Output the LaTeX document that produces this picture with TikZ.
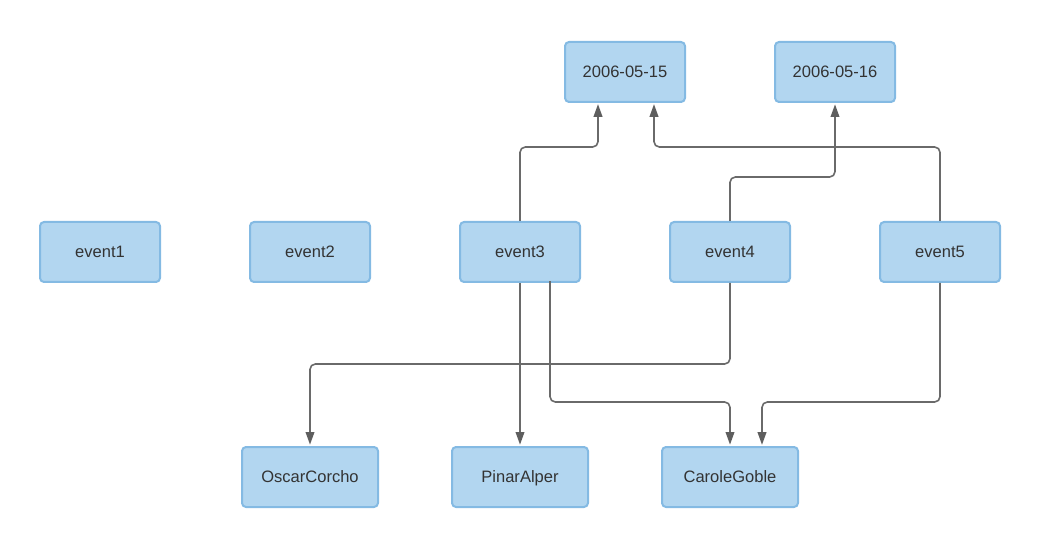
\documentclass[tikz,border=0pt]{standalone}
\usepackage{fontspec}
\setmainfont{Liberation Sans}
\usetikzlibrary{arrows.meta}
\definecolor{boxfill}{HTML}{B2D6F0}
\definecolor{boxline}{HTML}{84BAE3}
\definecolor{edgecol}{HTML}{6A6A6A}
\definecolor{tipcol}{HTML}{5E5E5E}
\definecolor{txtcol}{HTML}{333333}
\begin{document}
\begin{tikzpicture}[x=0.75pt,y=-0.75pt,
  box/.style={draw=boxline,fill=boxfill,line width=1.5pt,rounded corners=3pt,
    minimum width=90pt,minimum height=45pt,inner sep=0pt,text=txtcol,
    font=\fontsize{12.4}{14}\selectfont,text depth=0.6pt},
  wbox/.style={box,minimum width=102pt},
  conn/.style={draw=edgecol,line width=1.2pt,rounded corners=4pt,
    -{Triangle[length=9.5pt,width=6.5pt,color=tipcol]},shorten >=1pt}]
\useasboundingbox (0,0) rectangle (1062,534);
\node[box] (d15) at (625,72) {2006-05-15};
\node[box] (d16) at (835,72) {2006-05-16};
\node[box] (e1) at (100,252) {event1};
\node[box] (e2) at (310,252) {event2};
\node[box] (e3) at (520,252) {event3};
\node[box] (e4) at (730,252) {event4};
\node[box] (e5) at (940,252) {event5};
\node[wbox] (oc) at (310,477) {OscarCorcho};
\node[wbox] (pa) at (520,477) {PinarAlper};
\node[wbox] (cg) at (730,477) {CaroleGoble};
\coordinate (d15a) at (598,102.8);
\coordinate (d15b) at (654,102.8);
\coordinate (e3b) at (550,281.2);
\coordinate (cgb) at (762,446.2);
\draw[conn] (e3.north) |- (598,147) -- (d15a);
\draw[conn] (e4.north) |- (835,177) -- (d16.south);
\draw[conn] (e5.north) |- (654,147) -- (d15b);
\draw[conn] (e4.south) |- (310,364) -- (oc.north);
\draw[conn] (e3.south) -- (pa.north);
\draw[conn] (e3b) |- (730,402) -- (cg.north);
\draw[conn] (e5.south) |- (762,402) -- (cgb);
\end{tikzpicture}
\end{document}
